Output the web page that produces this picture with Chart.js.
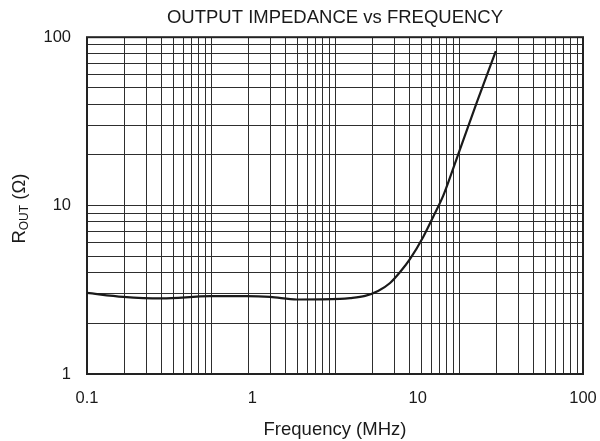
<!DOCTYPE html>
<html>
<head>
<meta charset="utf-8">
<script src="https://cdn.jsdelivr.net/npm/chart.js@4"></script>
<style>
  body { margin: 0; background: #fff; }
  #wrap { width: 600px; height: 441px; }
</style>
</head>
<body>
<div id="wrap"><canvas id="c"></canvas></div>
<script>
// values
const freqMHz = [0.1, 0.166, 0.283, 0.555, 0.925, 1.28, 1.86, 3.39, 3.9, 4.81, 5.76, 6.81, 7.83, 9.0, 10.8, 12.4, 14.3, 16.15, 19.4, 22.7, 29.7];
const routOhm = [3.03, 2.87, 2.81, 2.90, 2.90, 2.87, 2.77, 2.79, 2.82, 2.91, 3.11, 3.47, 4.03, 4.82, 6.51, 8.56, 11.5, 15.9, 26.4, 40.6, 82.6];

const xTickValues = [0.1, 1, 10, 100];
const yTickValues = [1, 10, 100];
// the printed grid spans four decades across the width
const xGridDecades = [0.1, 1, 10, 100];
const yGridDecades = [1, 10];
const minorSteps = [1, 2, 3, 4, 5, 6, 7, 8, 9];

const FONT = '"Liberation Sans", Arial, sans-serif';
const INK = '#1a1a1a';
const GRID = '#2e2e2e';

function gridValues(decades, last) {
    const out = [];
    decades.forEach((d) => minorSteps.forEach((m) => out.push(+(d * m).toPrecision(3))));
    out.push(last);
    return out;
}

const frame = {
    id: 'frame',
    beforeDatasetsDraw(chart) {
        const { ctx, chartArea: a } = chart;
        ctx.save();
        ctx.strokeStyle = '#222';
        ctx.lineWidth = 2;
        ctx.strokeRect(a.left, a.top, a.right - a.left, a.bottom - a.top);
        ctx.restore();
    }
};

// y title with subscript
const yTitle = {
    id: 'yTitle',
    afterDraw(chart) {
        const { ctx, chartArea: a } = chart;
        const big = '18.5px ' + FONT;
        const small = '12px ' + FONT;
        ctx.save();
        ctx.fillStyle = INK;
        ctx.textBaseline = 'alphabetic';
        ctx.font = big;
        const wR = ctx.measureText('R').width;
        const wTail = ctx.measureText(' (Ω)').width;
        ctx.font = small;
        const wSub = ctx.measureText('OUT').width;
        const total = wR + wSub + wTail;
        ctx.translate(25, (a.top + a.bottom) / 2 + 3);
        ctx.rotate(-Math.PI / 2);
        let x = -total / 2;
        ctx.font = big;
        ctx.fillText('R', x, 0);
        x += wR;
        ctx.font = small;
        ctx.fillText('OUT', x, 3);
        x += wSub;
        ctx.font = big;
        ctx.fillText(' (Ω)', x, 0);
        ctx.restore();
    }
};

new Chart(document.getElementById('c'), {
    type: 'line',
    data: {
        datasets: [{
            data: freqMHz.map((f, i) => ({ x: f, y: routOhm[i] })),
            borderColor: INK,
            borderWidth: 2.2,
            pointRadius: 0,
            cubicInterpolationMode: 'monotone',
            xAxisID: 'x',
            yAxisID: 'y'
        }]
    },
    options: {
        responsive: true,
        maintainAspectRatio: false,
        animation: false,
        layout: { padding: 0 },
        plugins: {
            legend: { display: false },
            tooltip: { enabled: false },
            title: {
                display: true,
                fullSize: false,
                text: 'OUTPUT IMPEDANCE vs FREQUENCY',
                color: INK,
                font: { family: FONT, size: 18.5, weight: 'normal' },
                padding: { top: 7, bottom: 8 }
            }
        },
        scales: {
            x: {
                type: 'logarithmic',
                position: 'bottom',
                min: 0.1,
                max: 100,
                grid: { display: false, drawTicks: false },
                border: { display: false },
                afterBuildTicks: (scale) => { scale.ticks = xTickValues.map((v) => ({ value: v })); },
                afterFit: (scale) => {
                    scale.height = 67;
                    scale.paddingLeft = 0;
                    scale.paddingRight = 17;
                },
                ticks: {
                    autoSkip: false,
                    maxRotation: 0,
                    padding: 15,
                    color: INK,
                    font: { family: FONT, size: 16.5 },
                    callback: (value) => String(value)
                },
                title: {
                    display: true,
                    text: 'Frequency (MHz)',
                    color: INK,
                    font: { family: FONT, size: 18.5 },
                    padding: { top: 0, bottom: 0 }
                }
            },
            xg: {
                type: 'logarithmic',
                position: 'bottom',
                min: 0.1,
                max: 1000,
                grid: { color: GRID, lineWidth: 1, drawTicks: false },
                border: { display: false },
                ticks: { display: false },
                afterBuildTicks: (scale) => { scale.ticks = gridValues(xGridDecades, 1000).map((v) => ({ value: v })); },
                afterFit: (scale) => {
                    scale.height = 0;
                    scale.paddingLeft = 0;
                    scale.paddingRight = 0;
                }
            },
            y: {
                type: 'logarithmic',
                min: 1,
                max: 100,
                grid: { color: GRID, lineWidth: 1, drawTicks: false },
                border: { display: false },
                afterBuildTicks: (scale) => { scale.ticks = gridValues(yGridDecades, 100).map((v) => ({ value: v })); },
                afterFit: (scale) => { scale.width = 87; },
                ticks: {
                    autoSkip: false,
                    padding: 16,
                    color: INK,
                    font: { family: FONT, size: 16.5 },
                    callback: (value) => (yTickValues.includes(value) ? String(value) : '')
                }
            }
        }
    },
    plugins: [frame, yTitle]
});
</script>
</body>
</html>
